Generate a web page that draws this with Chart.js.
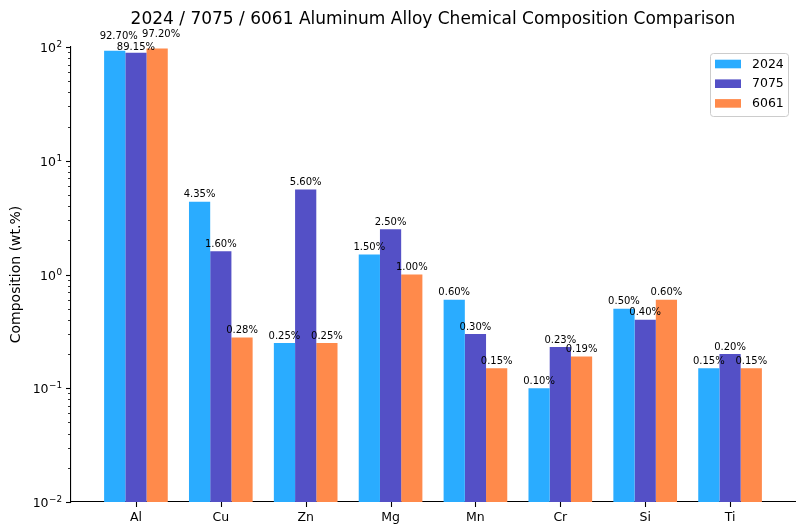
<!DOCTYPE html>
<html>
<head>
<meta charset="utf-8">
<script src="https://cdn.jsdelivr.net/npm/chart.js@4.4.1/dist/chart.umd.min.js"></script>
<style>
  html, body { margin: 0; padding: 0; background: #fff; }
</style>
</head>
<body>
<canvas id="chart" width="800" height="530"></canvas>
<script>
const elements = ['Al', 'Cu', 'Zn', 'Mg', 'Mn', 'Cr', 'Si', 'Ti'];   //element categories on the x axis
const alloy2024 = [92.70, 4.35, 0.25, 1.50, 0.60, 0.10, 0.50, 0.15]; //wt.% for 2024
const alloy7075 = [89.15, 1.60, 5.60, 2.50, 0.30, 0.23, 0.40, 0.20]; //wt.% for 7075
const alloy6061 = [97.20, 0.28, 0.25, 1.00, 0.15, 0.19, 0.60, 0.15]; //wt.% for 6061
const seriesNames = ['2024', '7075', '6061'];
const seriesColors = ['#2aacff', '#5450c6', '#ff8a4b'];
const yDecades = [-2, -1, 0, 1, 2];
const yExponents = ['−2', '−1', '0', '1', '2']; //exponent text of the decade tick labels (10^n)
const chartTitle = '2024 / 7075 / 6061 Aluminum Alloy Chemical Composition Comparison';

Chart.defaults.font.family = "'DejaVu Sans', sans-serif";
Chart.defaults.color = '#000';

//turns a value list into {x, y} points so the bars sit on a linear x scale
function toPoints(arr) {
    return arr.map((v, i) => ({x: i, y: v}));
}

//true when the value is a whole power of ten
function isDecade(value) {
    const e = Math.round(Math.log10(value));
    return Math.abs(value - Math.pow(10, e)) < 1e-9 * Math.pow(10, e);
}

//title drawn centred over the plot area
const titlePlugin = {
    id: 'plotTitle',
    afterDraw(chart) {
        const {ctx, chartArea} = chart;
        ctx.save();
        ctx.font = "17px 'DejaVu Sans'";
        ctx.fillStyle = '#000';
        ctx.textAlign = 'center';
        ctx.textBaseline = 'alphabetic';
        ctx.fillText(chartTitle, (chartArea.left + chartArea.right) / 2, 24);
        ctx.restore();
    }
};

//matplotlib style tick marks (long on decades, short minor ticks) and 10^n labels
const tickPlugin = {
    id: 'tickMarks',
    afterDraw(chart) {
        const {ctx, chartArea} = chart;
        const yScale = chart.scales.y;
        const xScale = chart.scales.x;
        ctx.save();
        ctx.strokeStyle = '#000';
        ctx.fillStyle = '#000';
        yScale.ticks.forEach(t => {
            const py = Math.round(yScale.getPixelForValue(t.value)) + 0.5;
            const len = t.major ? 5 : 3;
            ctx.lineWidth = t.major ? 1.1 : 0.8;
            ctx.beginPath();
            ctx.moveTo(chartArea.left - len, py);
            ctx.lineTo(chartArea.left, py);
            ctx.stroke();
            if (t.major) {
                const exp = yExponents[yDecades.indexOf(Math.round(Math.log10(t.value)))];
                const right = chartArea.left - 9;
                ctx.textAlign = 'right';
                ctx.textBaseline = 'alphabetic';
                ctx.font = "8.8px 'DejaVu Sans'";
                const expW = ctx.measureText(exp).width;
                ctx.fillText(exp, right, py - 0.5);
                ctx.font = "12.5px 'DejaVu Sans'";
                ctx.fillText('10', right - expW - 0.5, py + 4.5);
            }
        });
        ctx.lineWidth = 1.1;
        xScale.ticks.forEach(t => {
            const px = Math.round(xScale.getPixelForValue(t.value)) + 0.5;
            ctx.beginPath();
            ctx.moveTo(px, chartArea.bottom);
            ctx.lineTo(px, chartArea.bottom + 5);
            ctx.stroke();
        });
        ctx.restore();
    }
};

//value labels above every bar
const barLabelPlugin = {
    id: 'barLabels',
    afterDatasetsDraw(chart) {
        const {ctx} = chart;
        ctx.save();
        ctx.font = "10px 'DejaVu Sans'";
        ctx.fillStyle = '#000';
        ctx.textAlign = 'center';
        ctx.textBaseline = 'bottom';
        chart.data.datasets.forEach((ds, d) => {
            const meta = chart.getDatasetMeta(d);
            meta.data.forEach((bar, i) => {
                let dx = 0, dy = 0;
                //the Al labels were staggered in the original so they don't pile up
                if (i === 0) {
                    if (d === 1) { dy = 2; } else { dy = -7; dx = 4; }
                }
                ctx.fillText(ds.data[i].y.toFixed(2) + '%', bar.x + dx, bar.y - 2 + dy);
            });
        });
        ctx.restore();
    }
};

//legend box in the upper right corner of the plot area
const legendPlugin = {
    id: 'boxLegend',
    afterDraw(chart) {
        const {ctx, chartArea} = chart;
        const w = 78, h = 63;
        const left = chartArea.right - 7 - w;
        const top = chartArea.top + 6;
        ctx.save();
        ctx.fillStyle = 'rgba(255,255,255,0.8)';
        ctx.strokeStyle = '#cccccc';
        ctx.lineWidth = 1;
        ctx.beginPath();
        ctx.roundRect(left + 0.5, top + 0.5, w, h, 3);
        ctx.fill();
        ctx.stroke();
        ctx.font = "12.5px 'DejaVu Sans'";
        ctx.textAlign = 'left';
        ctx.textBaseline = 'middle';
        chart.data.datasets.forEach((ds, d) => {
            const cy = top + 11 + d * 19.7;
            ctx.fillStyle = ds.backgroundColor;
            ctx.fillRect(left + 5, cy - 4.3, 26, 8.6);
            ctx.fillStyle = '#000';
            ctx.fillText(ds.label, left + 42, cy + 0.5);
        });
        ctx.restore();
    }
};

function createChart() {
    const values = [alloy2024, alloy7075, alloy6061];
    const datasets = values.map((arr, k) => ({
        label: seriesNames[k],
        data: toPoints(arr),
        backgroundColor: seriesColors[k],
        borderWidth: 0,
        categoryPercentage: 0.75,
        barPercentage: 1.0
    }));
    new Chart(document.getElementById('chart'), {
        type: 'bar',
        data: {datasets: datasets},
        options: {
            responsive: false,
            devicePixelRatio: 1,
            animation: false,
            layout: {padding: {top: 47, right: 5, left: 0, bottom: 0}},
            plugins: {
                legend: {display: false},
                title: {display: false},
                tooltip: {enabled: false}
            },
            scales: {
                x: {
                    type: 'linear',
                    offset: false,
                    min: -0.765,
                    max: 7.765,
                    grid: {display: false, drawTicks: false},
                    border: {display: true, color: '#000', width: 1.1},
                    afterBuildTicks: scale => {
                        scale.ticks = elements.map((_, i) => ({value: i}));
                    },
                    afterFit: scale => { scale.height = 28; },
                    ticks: {
                        autoSkip: false,
                        maxRotation: 0,
                        padding: 8,
                        font: {size: 12.5},
                        callback: value => elements[value]
                    }
                },
                y: {
                    type: 'logarithmic',
                    min: 0.01,
                    max: 100,
                    grid: {display: false, drawTicks: false},
                    border: {display: true, color: '#000', width: 1.1},
                    afterBuildTicks: scale => {
                        const ticks = [];
                        yDecades.forEach(e => {
                            for (let m = 1; m <= 9; m++) {
                                if (e === 2 && m > 1) break;
                                ticks.push({value: m * Math.pow(10, e), major: m === 1});
                            }
                        });
                        scale.ticks = ticks;
                    },
                    afterFit: scale => { scale.width = 71; },
                    title: {
                        display: true,
                        text: 'Composition (wt.%)',
                        font: {size: 14},
                        padding: {top: 8, bottom: 0}
                    },
                    ticks: {
                        //decade labels are drawn by tickMarks with a raised exponent
                        autoSkip: false,
                        padding: 9,
                        major: {enabled: false},
                        callback: () => ''
                    }
                }
            }
        },
        plugins: [titlePlugin, tickPlugin, barLabelPlugin, legendPlugin]
    });
}
createChart();
</script>
</body>
</html>
